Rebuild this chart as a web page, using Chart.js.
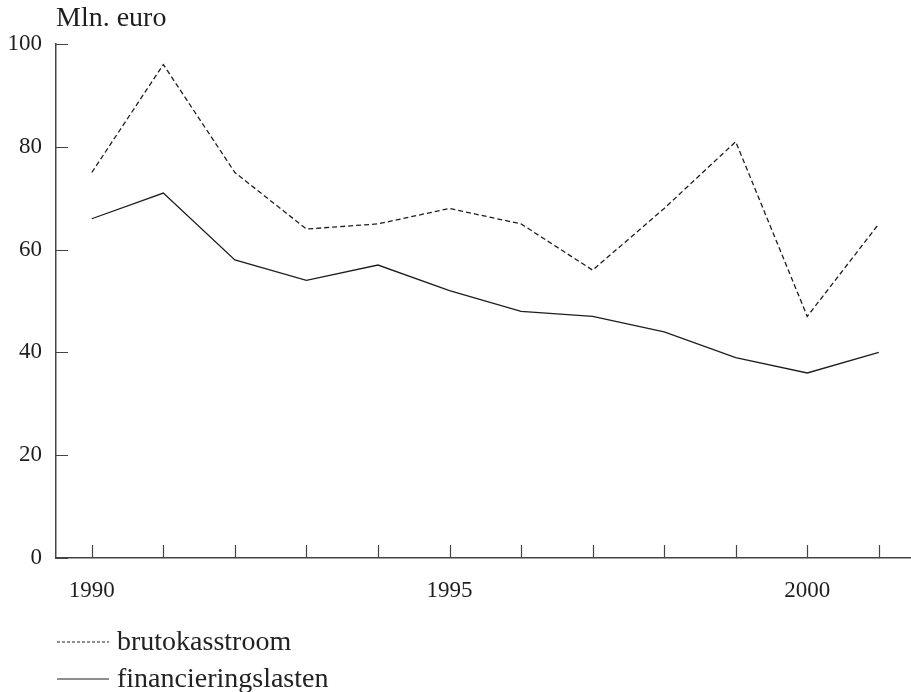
<!DOCTYPE html>
<html>
<head>
<meta charset="utf-8">
<script src="https://cdn.jsdelivr.net/npm/chart.js@4.4.1/dist/chart.umd.min.js"></script>
<style>
  html, body { margin: 0; padding: 0; background: #fff; overflow: hidden; }
  #wrap { position: relative; width: 911px; height: 692px; }
  #legend { position: absolute; left: 57px; top: 622px; font: 28px "Liberation Serif", serif; color: #222; }
  #legend div { height: 37px; line-height: 37px; white-space: nowrap; }
  #legend svg { vertical-align: middle; margin-right: 8px; position: relative; top: -2px; }
</style>
</head>
<body>
<div id="wrap">
  <canvas id="myChart" width="911" height="692"></canvas>
  <div id="legend"></div>
</div>
<script>
// data
var years = [1990, 1991, 1992, 1993, 1994, 1995, 1996, 1997, 1998, 1999, 2000, 2001];
var brutokasstroom = [75, 96, 75, 64, 65, 68, 65, 56, 68, 81, 47, 65];
var financieringslasten = [66, 71, 58, 54, 57, 52, 48, 47, 44, 39, 36, 40];
var yearLabels = [1990, 1995, 2000];
var seriesNames = ['brutokasstroom', 'financieringslasten'];

var ink = '#1e1e1e';
var axisInk = '#444';

function pts(vals){
  return years.map(function(y, i){ return {x: y, y: vals[i]}; });
}

// small tick marks pointing into the plot
var innerTicks = {
  id: 'innerTicks',
  afterDraw: function(chart){
    var ctx = chart.ctx, a = chart.chartArea;
    var xs = chart.scales.x, ys = chart.scales.y;
    ctx.save();
    ctx.strokeStyle = axisInk;
    ctx.lineWidth = 1.2;
    ctx.beginPath();
    xs.ticks.forEach(function(t){
      var px = Math.round(xs.getPixelForValue(t.value)) + 0.5;
      ctx.moveTo(px, a.bottom);
      ctx.lineTo(px, a.bottom - 13);
    });
    ys.ticks.forEach(function(t){
      var py = Math.round(ys.getPixelForValue(t.value)) + 0.5;
      ctx.moveTo(a.left, py);
      ctx.lineTo(a.left + 12, py);
    });
    ctx.stroke();
    ctx.restore();
  }
};

const config = {
  type: 'line',
  data: {
    datasets: [{
      label: seriesNames[0],
      data: pts(brutokasstroom),
      borderColor: ink,
      borderWidth: 1.3,
      borderDash: [5, 3],
      pointRadius: 0,
      tension: 0
    }, {
      label: seriesNames[1],
      data: pts(financieringslasten),
      borderColor: ink,
      borderWidth: 1.3,
      pointRadius: 0,
      tension: 0
    }]
  },
  options: {
    responsive: false,
    animation: false,
    layout: { padding: { left: 7.5, right: 0, top: 0, bottom: 87.4 } },
    plugins: {
      legend: { display: false },
      tooltip: { enabled: false },
      title: {
        display: true,
        text: 'Mln. euro',
        align: 'start',
        fullSize: false,
        color: ink,
        font: { family: 'Liberation Serif', size: 28, weight: 'normal', lineHeight: 1.2 },
        padding: { top: 2, bottom: 8.4 }
      }
    },
    scales: {
      x: {
        type: 'linear',
        min: 1989.5,
        max: 2001.45,
        grid: { drawOnChartArea: false, drawTicks: false },
        border: { display: true, color: axisInk, width: 1.5 },
        afterFit: function(s){ s.height = 46.6; },
        ticks: {
          stepSize: 1,
          includeBounds: false,
          autoSkip: false,
          maxRotation: 0,
          padding: 19,
          color: ink,
          font: { family: 'Liberation Serif', size: 23 },
          callback: function(v){ return yearLabels.indexOf(v) >= 0 ? String(v) : ''; }
        }
      },
      y: {
        min: 0,
        max: 100,
        grid: { drawOnChartArea: false, drawTicks: false },
        border: { display: true, color: axisInk, width: 1.5 },
        afterFit: function(s){ s.width = 48.5; },
        ticks: {
          stepSize: 20,
          padding: 14,
          color: ink,
          font: { family: 'Liberation Serif', size: 23 }
        }
      }
    }
  },
  plugins: [innerTicks]
};

const myChart = new Chart(document.getElementById('myChart'), config);

// legend below the plot
var leg = document.getElementById('legend');
seriesNames.forEach(function(name, i){
  var row = document.createElement('div');
  var dash = i === 0 ? ' stroke-dasharray="3 2"' : '';
  row.innerHTML = '<svg width="52" height="4"><line x1="0" y1="2" x2="52" y2="2" stroke="' + ink +
    '" stroke-width="1.2"' + dash + '/></svg>';
  row.appendChild(document.createTextNode(name));
  leg.appendChild(row);
});
</script>
</body>
</html>
